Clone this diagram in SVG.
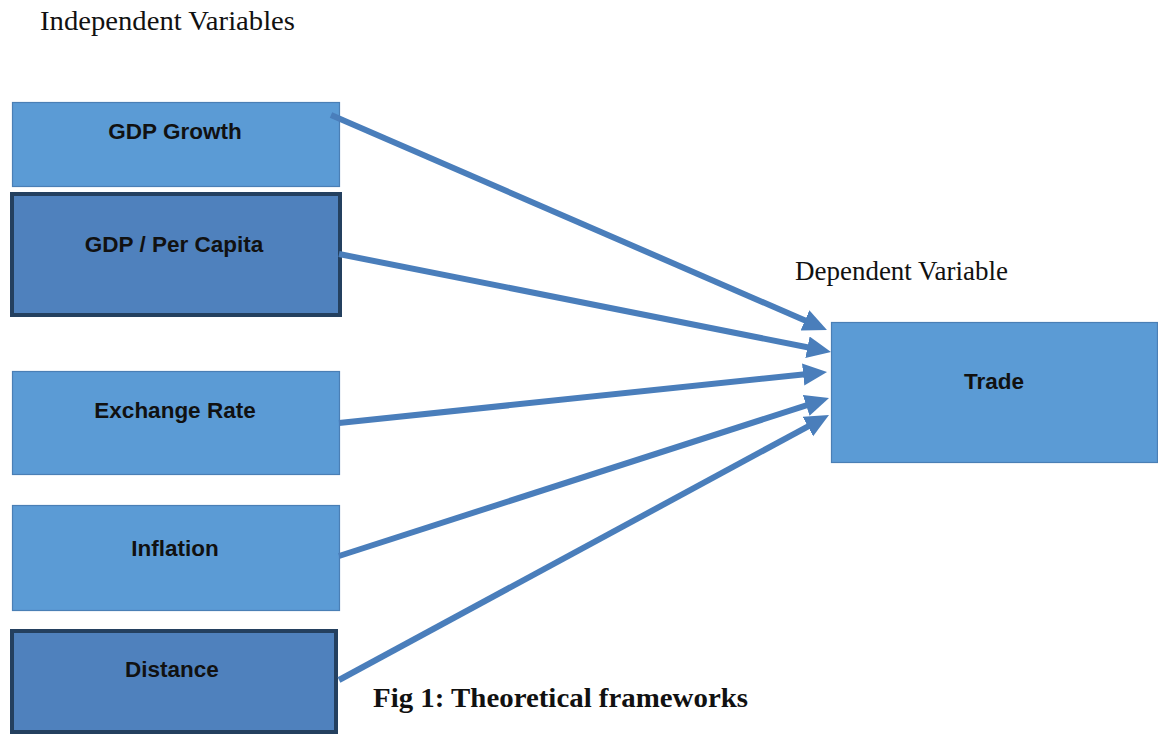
<svg xmlns="http://www.w3.org/2000/svg" width="1158" height="735" viewBox="0 0 1158 735">
<style>
.light{fill:#5b9bd5;stroke:#4a7fb5;stroke-width:1.2}
.dark{fill:#4f81bd;stroke:#24405f;stroke-width:4}
.lbl{font-family:"Liberation Sans",Arial,sans-serif;font-weight:bold;font-size:22.5px;fill:#111;text-anchor:middle}
.serif{font-family:"Liberation Serif","Times New Roman",serif;font-size:27px;fill:#111}
.arr{stroke:#4a7ebb;stroke-width:6;fill:none;marker-end:url(#ah)}
</style>
<defs>
<marker id="ah" markerUnits="userSpaceOnUse" markerWidth="26" markerHeight="24" refX="14" refY="11" orient="auto">
<path d="M0,0 L24,11 L0,22 z" fill="#4a7ebb"/>
</marker>
</defs>
<rect width="1158" height="735" fill="#fff"/>
<text class="serif" x="40" y="30" textLength="255" lengthAdjust="spacingAndGlyphs">Independent Variables</text>
<text class="serif" x="795" y="280" textLength="213" lengthAdjust="spacingAndGlyphs">Dependent Variable</text>
<text class="serif" x="373" y="707" font-weight="bold" font-size="28" textLength="375" lengthAdjust="spacingAndGlyphs">Fig 1: Theoretical frameworks</text>
<g id="node-gdp-growth">
<rect class="light" x="12.5" y="102.5" width="327" height="84"/>
<text class="lbl" x="175" y="139">GDP Growth</text>
</g>
<g id="node-gdp-per-capita">
<rect class="dark" x="12" y="194" width="328" height="121"/>
<text class="lbl" x="174" y="252">GDP / Per Capita</text>
</g>
<g id="node-exchange-rate">
<rect class="light" x="12.5" y="371.5" width="327" height="103"/>
<text class="lbl" x="175" y="418">Exchange Rate</text>
</g>
<g id="node-inflation">
<rect class="light" x="12.5" y="505.5" width="327" height="105"/>
<text class="lbl" x="175" y="556">Inflation</text>
</g>
<g id="node-distance">
<rect class="dark" x="12" y="631" width="324" height="101"/>
<text class="lbl" x="172" y="677">Distance</text>
</g>
<g id="node-trade">
<rect class="light" x="831.5" y="322.5" width="326" height="140"/>
<text class="lbl" x="994" y="389">Trade</text>
</g>
<g id="connectors">
<line class="arr" x1="331" y1="115" x2="817.8" y2="326"/>
<line class="arr" x1="339" y1="254" x2="821.2" y2="350"/>
<line class="arr" x1="339" y1="423" x2="817.1" y2="373"/>
<line class="arr" x1="339" y1="556" x2="819.5" y2="401.1"/>
<line class="arr" x1="339" y1="680" x2="820.2" y2="419.8"/>
</g>
</svg>
